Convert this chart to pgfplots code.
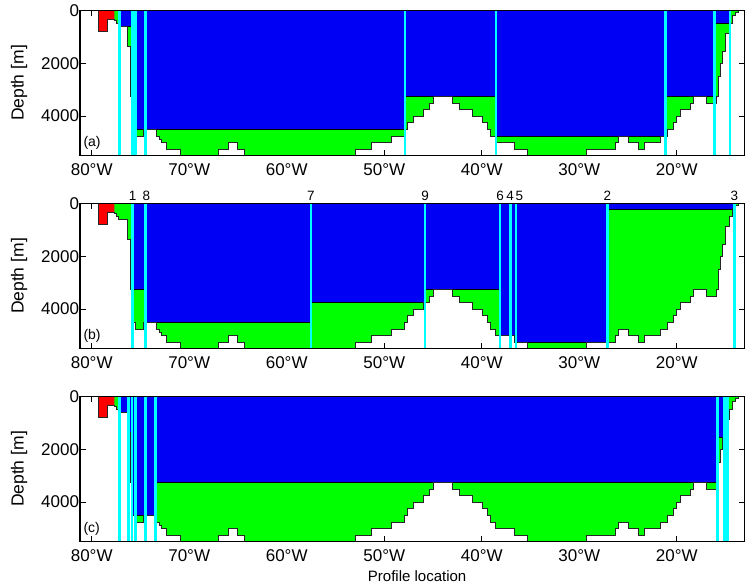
\documentclass[border=0pt]{standalone}
\usepackage{fontspec}
\setmainfont{Liberation Sans}
\usepackage{pgfplots}
\usepackage{pgfplotstable}
\pgfplotsset{compat=1.18}

\definecolor{upper}{RGB}{0,0,245}
\definecolor{lower}{RGB}{0,255,0}
\definecolor{shelf}{RGB}{255,0,0}
\definecolor{stn}{RGB}{0,255,255}

% Bottom depth along the section; each depth holds eastward to the next longitude
\pgfplotstableread{
lon depth
-81.30 0
-79.32 790
-78.36 340
-77.68 370
-77.44 505
-77.27 600
-76.31 1350
-76.07 3250
-75.85 4500
-75.55 4750
-74.70 4500
-73.33 4750
-73.10 4875
-72.82 5000
-72.31 5250
-70.94 5700
-67.01 5250
-65.95 5000
-65.03 5250
-64.34 5700
-52.92 5250
-51.28 5000
-49.30 4750
-47.97 4500
-47.62 4250
-47.01 4000
-45.98 3750
-45.37 3500
-44.96 3250
-42.97 3500
-42.29 3750
-40.92 4000
-39.93 4250
-39.38 4500
-39.15 4750
-38.63 5000
-36.65 5250
-35.28 5700
-29.30 5250
-26.32 5000
-25.98 4750
-24.96 5000
-23.93 5250
-23.35 5000
-21.71 4750
-20.96 4500
-20.35 4250
-20.00 4000
-19.59 3750
-18.64 3500
-18.30 3250
-16.92 3500
-15.90 3250
-15.73 2500
-15.56 2000
-15.32 1550
-14.97 860
-14.63 480
-14.29 200
-14.00 80
-13.70 0
-12.90 0
}\bottomtab

% Shelf water column near the western boundary
\pgfplotstableread{
lon depth
-79.32 790
-78.36 340
-77.68 340
}\shelftab

% Lower limit of the upper layer, one table per case
\pgfplotstableread{
lon depth
-81.30 0
-77.20 600
-75.83 4500
-47.86 3250
-38.53 4750
-21.13 3250
-16.14 480
-14.53 0
-12.90 0
}\layerA

\pgfplotstableread{
lon depth
-81.30 0
-75.80 3250
-74.50 4500
-57.51 3750
-45.81 3250
-38.12 5000
-36.65 5250
-27.12 230
-14.29 200
-14.09 0
-12.90 0
}\layerB

\pgfplotstableread{
lon depth
-81.30 0
-77.19 600
-76.21 1350
-76.07 3250
-75.85 4500
-73.47 3250
-15.80 1550
-15.11 0
-12.90 0
}\layerC

\pgfplotsset{
  section/.style={
    scale only axis, width=665pt, height=145.3pt, anchor=south west,
    xmin=-81.2, xmax=-13.0, ymin=0, ymax=5500, y dir=reverse,
    xtick={-80,-70,-60,-50,-40,-30,-20},
    xticklabels={80°W,70°W,60°W,50°W,40°W,30°W,20°W},
    ytick={0,2000,4000}, yticklabels={0,2000,4000},
    tick align=inside, major tick length=6pt,
    tick style={black, line width=0.6pt},
    tick label style={font=\fontsize{17}{20}\selectfont},
    xticklabel style={yshift=-4pt},
    yticklabel style={xshift=2.5pt},
    ylabel={Depth [m]},
    ylabel style={font=\fontsize{17.5}{20}\selectfont,
      at={(axis description cs:-0.0917,0.5)}, anchor=center},
    axis line style={line width=1pt},
    clip mode=individual,
  },
  water/.style={const plot, fill=lower, draw=none},
  layer/.style={const plot, fill=upper, draw=black, line width=0.5pt},
  shelfwater/.style={const plot, fill=shelf, draw=none},
  seabed/.style={const plot, draw=black!85, line width=0.7pt},
  station/.style={stn, line width=2.8pt, forget plot},
}
\tikzset{
  tag/.style={font=\fontsize{14}{16}\selectfont, anchor=base west, inner sep=0pt},
  stnlabel/.style={font=\fontsize{13.5}{15}\selectfont, anchor=base, inner sep=0pt, yshift=2.7pt},
}

\begin{document}
\begin{tikzpicture}[x=1pt,y=1pt]

% (a)
\begin{axis}[section, at={(80pt,432.3pt)}]
  \addplot[water] table {\bottomtab} \closedcycle;
  \addplot[layer] table {\layerA} \closedcycle;
  \addplot[shelfwater] table {\shelftab} \closedcycle;
  \addplot[seabed] table {\bottomtab};
  \pgfplotsinvokeforeach{-77.18,-75.85,-75.50,-74.50,-47.86,-38.53,-21.13,-16.14,-14.53}{
    \addplot[station] coordinates {(#1,0) (#1,5500)};
  }
  \node[tag] at (axis description cs:0.005,0.06) {(a)};
  \draw[line width=1.1pt] (axis description cs:0,0) rectangle (axis description cs:1,1);
\end{axis}

% (b)
\begin{axis}[section, at={(80pt,239.3pt)}]
  \addplot[water] table {\bottomtab} \closedcycle;
  \addplot[layer] table {\layerB} \closedcycle;
  \addplot[shelfwater] table {\shelftab} \closedcycle;
  \addplot[seabed] table {\bottomtab};
  \pgfplotsinvokeforeach{-75.80,-74.50,-57.51,-45.81,-38.12,-37.09,-36.48,-27.12,-14.09}{
    \addplot[station] coordinates {(#1,0) (#1,5500)};
  }
  \node[stnlabel] at (axis cs:-75.80,0) {1};
  \node[stnlabel] at (axis cs:-74.40,0) {8};
  \node[stnlabel] at (axis cs:-57.51,0) {7};
  \node[stnlabel] at (axis cs:-45.81,0) {9};
  \node[stnlabel] at (axis cs:-38.12,0) {6};
  \node[stnlabel] at (axis cs:-37.09,0) {4};
  \node[stnlabel] at (axis cs:-36.15,0) {5};
  \node[stnlabel] at (axis cs:-27.12,0) {2};
  \node[stnlabel] at (axis cs:-14.09,0) {3};
  \node[tag] at (axis description cs:0.005,0.06) {(b)};
  \draw[line width=1.1pt] (axis description cs:0,0) rectangle (axis description cs:1,1);
\end{axis}

% (c)
\begin{axis}[section, at={(80pt,46.3pt)},
    xlabel={Profile location},
    xlabel style={font=\fontsize{15}{18}\selectfont,
      at={(axis description cs:0.507,0)}, anchor=base, yshift=-40pt}]
  \addplot[water] table {\bottomtab} \closedcycle;
  \addplot[layer] table {\layerC} \closedcycle;
  \addplot[shelfwater] table {\shelftab} \closedcycle;
  \addplot[seabed] table {\bottomtab};
  \pgfplotsinvokeforeach{-77.19,-76.22,-75.87,-75.50,-74.47,-73.47,-15.80,-15.11,-14.81}{
    \addplot[station] coordinates {(#1,0) (#1,5500)};
  }
  \node[tag] at (axis description cs:0.005,0.06) {(c)};
  \draw[line width=1.1pt] (axis description cs:0,0) rectangle (axis description cs:1,1);
\end{axis}

\pgfresetboundingbox
\path[use as bounding box] (0pt,0pt) rectangle (745pt,588pt);
\end{tikzpicture}
\end{document}
